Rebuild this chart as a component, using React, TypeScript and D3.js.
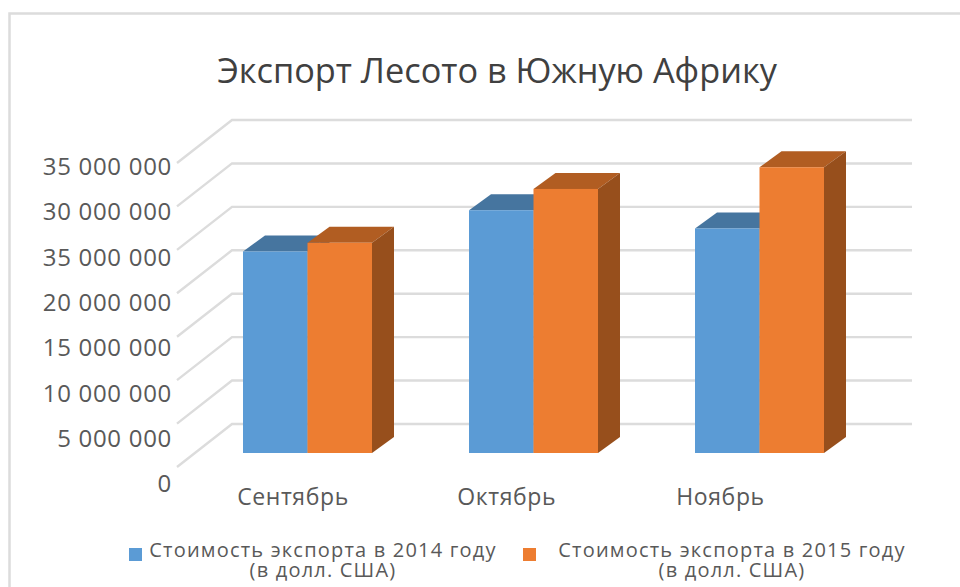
import { useEffect, useRef } from "react";
import * as d3 from "d3";

const title = "Экспорт Лесото в Южную Африку";
const categories = ["Сентябрь", "Октябрь", "Ноябрь"];
const seriesNames = ["2014", "2015"];
const values2014 = [23200000, 27950000, 25850000];
const values2015 = [24200000, 30400000, 32900000];
const yTicks = [0, 5000000, 10000000, 15000000, 20000000, 25000000, 30000000, 35000000];
// the source picture really does print 35 000 000 on the 25 million tick
const yTickLabels = [
  "0",
  "5 000 000",
  "10 000 000",
  "15 000 000",
  "20 000 000",
  "35 000 000",
  "30 000 000",
  "35 000 000",
];
const legendLines = [
  ["Стоимость экспорта в 2014 году", "(в долл. США)"],
  ["Стоимость экспорта в 2015 году", "(в долл. США)"],
];

const FONT = "'Open Sans', sans-serif";
const TEXT = "#595959";
const GRID = "#dcdcdc";
const FRONT = ["#5b9bd5", "#ed7d31"];
const TOP = ["#46759f", "#b15d22"];
const SIDE = ["#3f6a94", "#974f1c"];

export default function App() {
  const svgRef = useRef<SVGSVGElement>(null);

  useEffect(() => {
    if (!svgRef.current) return;

    const svg = d3.select(svgRef.current);
    svg.selectAll("*").remove();

    const width = 960;
    const height = 587;
    svg.attr("width", width).attr("height", height);

    svg
      .append("rect")
      .attr("width", width)
      .attr("height", height)
      .attr("fill", "#ffffff");

    // Chart frame, only top and left sides are in the picture
    svg
      .append("path")
      .attr("d", `M960,13.5H9.5V587`)
      .attr("fill", "none")
      .attr("stroke", "#dcdcdc")
      .attr("stroke-width", 2.5);

    svg
      .append("text")
      .attr("x", 497)
      .attr("y", 83)
      .attr("text-anchor", "middle")
      .attr("fill", "#404040")
      .style("font-family", FONT)
      .style("font-size", "34.3px")
      .text(title);

    // Back wall scale for the grid
    const gridY = d3.scaleLinear().domain([0, 35000000]).range([424, 120]);
    const floorDx = 55;
    const floorDy = 43;
    const gridLine = d3.line<[number, number]>();

    svg
      .append("g")
      .selectAll("path")
      .data(yTicks)
      .join("path")
      .attr("d", (d) =>
        gridLine([
          [232 - floorDx, gridY(d) + floorDy],
          [232, gridY(d)],
          [912, gridY(d)],
        ]),
      )
      .attr("fill", "none")
      .attr("stroke", GRID)
      .attr("stroke-width", 2.4);

    // Value axis labels sit on their own, slightly wider spaced scale
    const labelY = d3.scaleLinear().domain([0, 35000000]).range([484, 167]);
    const yAxis = d3
      .axisLeft(labelY)
      .tickValues(yTicks)
      .tickSize(0)
      .tickPadding(0)
      .tickFormat((_, i) => yTickLabels[i]);

    const yAxisGroup = svg
      .append("g")
      .attr("transform", "translate(172,0)")
      .call(yAxis);
    yAxisGroup.select(".domain").remove();
    yAxisGroup
      .selectAll("text")
      .attr("fill", TEXT)
      .style("font-family", FONT)
      .style("font-size", "24px")
      .style("letter-spacing", "0.7px");

    // Bars
    const x0 = d3.scaleBand().domain(categories).range([194.5, 872.5]);
    const x1 = d3.scaleBand().domain(seriesNames).range([48.5, 177.5]);
    const barY = d3.scaleLinear().domain([0, 35000000]).range([453, 149]);
    const depthX = 22;
    const depthY = 16;
    const poly = d3.line<[number, number]>();

    const seriesValues = [values2014, values2015];
    categories.forEach((cat, c) => {
      const g = svg.append("g").attr("transform", `translate(${x0(cat)},0)`);
      seriesNames.forEach((name, s) => {
        const left = x1(name) as number;
        const right = left + x1.bandwidth();
        const top = barY(seriesValues[s][c]);
        const bottom = barY(0);

        g.append("path")
          .attr(
            "d",
            poly([
              [left, top],
              [left + depthX, top - depthY],
              [right + depthX, top - depthY],
              [right, top],
            ]) + "Z",
          )
          .attr("fill", TOP[s]);

        g.append("path")
          .attr(
            "d",
            poly([
              [right, top],
              [right + depthX, top - depthY],
              [right + depthX, bottom - depthY],
              [right, bottom],
            ]) + "Z",
          )
          .attr("fill", SIDE[s]);

        g.append("rect")
          .attr("x", left)
          .attr("y", top)
          .attr("width", x1.bandwidth())
          .attr("height", bottom - top)
          .attr("fill", FRONT[s]);
      });
    });

    // Category labels do not line up with the bars in the source
    const labelX = d3.scalePoint().domain(categories).range([292.5, 720]);
    const xAxis = d3.axisBottom(labelX).tickSize(0).tickPadding(0);
    const xAxisGroup = svg
      .append("g")
      .attr("transform", "translate(0,489)")
      .call(xAxis);
    xAxisGroup.select(".domain").remove();
    xAxisGroup
      .selectAll("text")
      .attr("fill", TEXT)
      .style("font-family", FONT)
      .style("font-size", "23px")
      .style("letter-spacing", "0.6px");

    // Legend
    const swatchX = [129, 523];
    const legendX = [323, 732];
    legendLines.forEach((lines, s) => {
      svg
        .append("rect")
        .attr("x", swatchX[s])
        .attr("y", 548)
        .attr("width", 13)
        .attr("height", 13)
        .attr("fill", FRONT[s]);
      lines.forEach((line, i) => {
        svg
          .append("text")
          .attr("x", legendX[s])
          .attr("y", 557 + i * 20)
          .attr("text-anchor", "middle")
          .attr("fill", TEXT)
          .style("font-family", FONT)
          .style("font-size", "20px")
          .style("letter-spacing", "1.2px")
          .text(line);
      });
    });
  }, []);

  return (
    <svg
      ref={svgRef}
      style={{ position: "absolute", left: 0, top: 0, display: "block" }}
    />
  );
}
